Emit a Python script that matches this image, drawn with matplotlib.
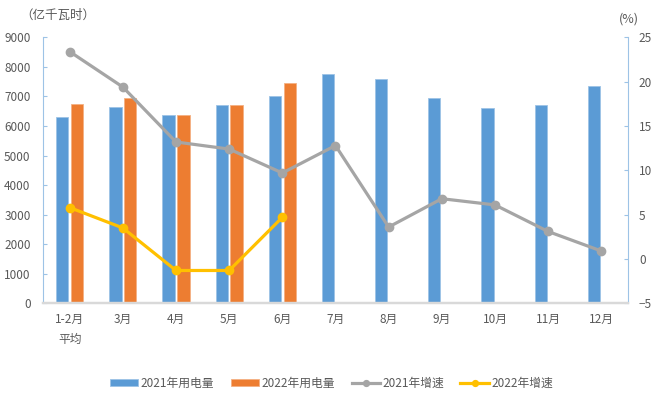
import matplotlib
matplotlib.use("Agg")
import matplotlib.pyplot as plt
import numpy as np

plt.rcParams['font.family'] = ['Noto Sans CJK SC', 'DejaVu Sans']

#%% data
months = ["1-2月\n平均", "3月", "4月", "5月", "6月", "7月", "8月", "9月", "10月", "11月", "12月"]
use_2021 = [6290, 6630, 6360, 6710, 7010, 7760, 7600, 6940, 6600, 6700, 7350]
use_2022 = [6730, 6950, 6360, 6710, 7440]
growth_2021 = [23.4, 19.4, 13.2, 12.4, 9.7, 12.8, 3.6, 6.8, 6.1, 3.1, 0.9]
growth_2022 = [5.8, 3.5, -1.3, -1.3, 4.7]

blue = "#5B9BD5"
orange = "#ED7D31"
grey = "#A5A5A5"
yellow = "#FFC000"
txt = "#595959"

x = np.arange(len(months))
x22 = np.arange(len(use_2022))
w = 0.23

fig = plt.figure(figsize=(6.63, 3.98), dpi=100)
ax = fig.add_axes([0.065, 0.238, 0.882, 0.668])
ax2 = ax.twinx()

b1 = ax.bar(x - 0.14, use_2021, w, color=blue, edgecolor="#9DC3E6", linewidth=0.6, zorder=2)
b2 = ax.bar(x22 + 0.14, use_2022, w, color=orange, edgecolor="#F4B183", linewidth=0.6, zorder=2)

l1, = ax2.plot(x, growth_2021, color=grey, lw=2.3, marker="o", ms=6, zorder=3)
l2, = ax2.plot(x22, growth_2022, color=yellow, lw=2.3, marker="o", ms=6, zorder=3)

ax.set_xlim(-0.5, len(months) - 0.5)
ax.set_ylim(0, 9000)
ax.set_yticks(range(0, 9001, 1000))
ax2.set_ylim(-5, 25)
ax2.set_yticks(range(-5, 26, 5))
ax.set_xticks(x)
ax.set_xticklabels(months, linespacing=1.7, va="top")

for a in (ax, ax2):
    a.spines['top'].set_visible(False)
    a.spines['left'].set_color("#9DC3E6")
    a.spines['right'].set_color("#9DC3E6")
    a.spines['bottom'].set_color("#D9D9D9")
    a.spines['bottom'].set_linewidth(1.6)
ax.spines['right'].set_visible(False)
ax2.spines['left'].set_visible(False)

ax.tick_params(axis='y', direction='in', length=3, color="#9DC3E6", labelsize=8.5, labelcolor=txt, pad=9)
ax2.tick_params(axis='y', direction='in', length=3, color="#9DC3E6", labelsize=8.5, labelcolor=txt, pad=8)
ax.tick_params(axis='x', length=0, labelsize=8.5, labelcolor=txt, pad=7)

fig.text(0.03, 0.962, "（亿千瓦时）", fontsize=9, color=txt, va="center")
fig.text(0.933, 0.952, "(%)", fontsize=9, color=txt, va="center")

fig.legend([b1, b2, l1, l2], ["2021年用电量", "2022年用电量", "2021年增速", "2022年增速"],
           loc="center", bbox_to_anchor=(0.5, 0.038), ncol=4, frameon=False,
           fontsize=8.5, labelcolor=txt, handlelength=2.4, handleheight=0.55,
           columnspacing=1.4, handletextpad=0.2, markerscale=0.7)

fig.savefig("out.png", dpi=100)
